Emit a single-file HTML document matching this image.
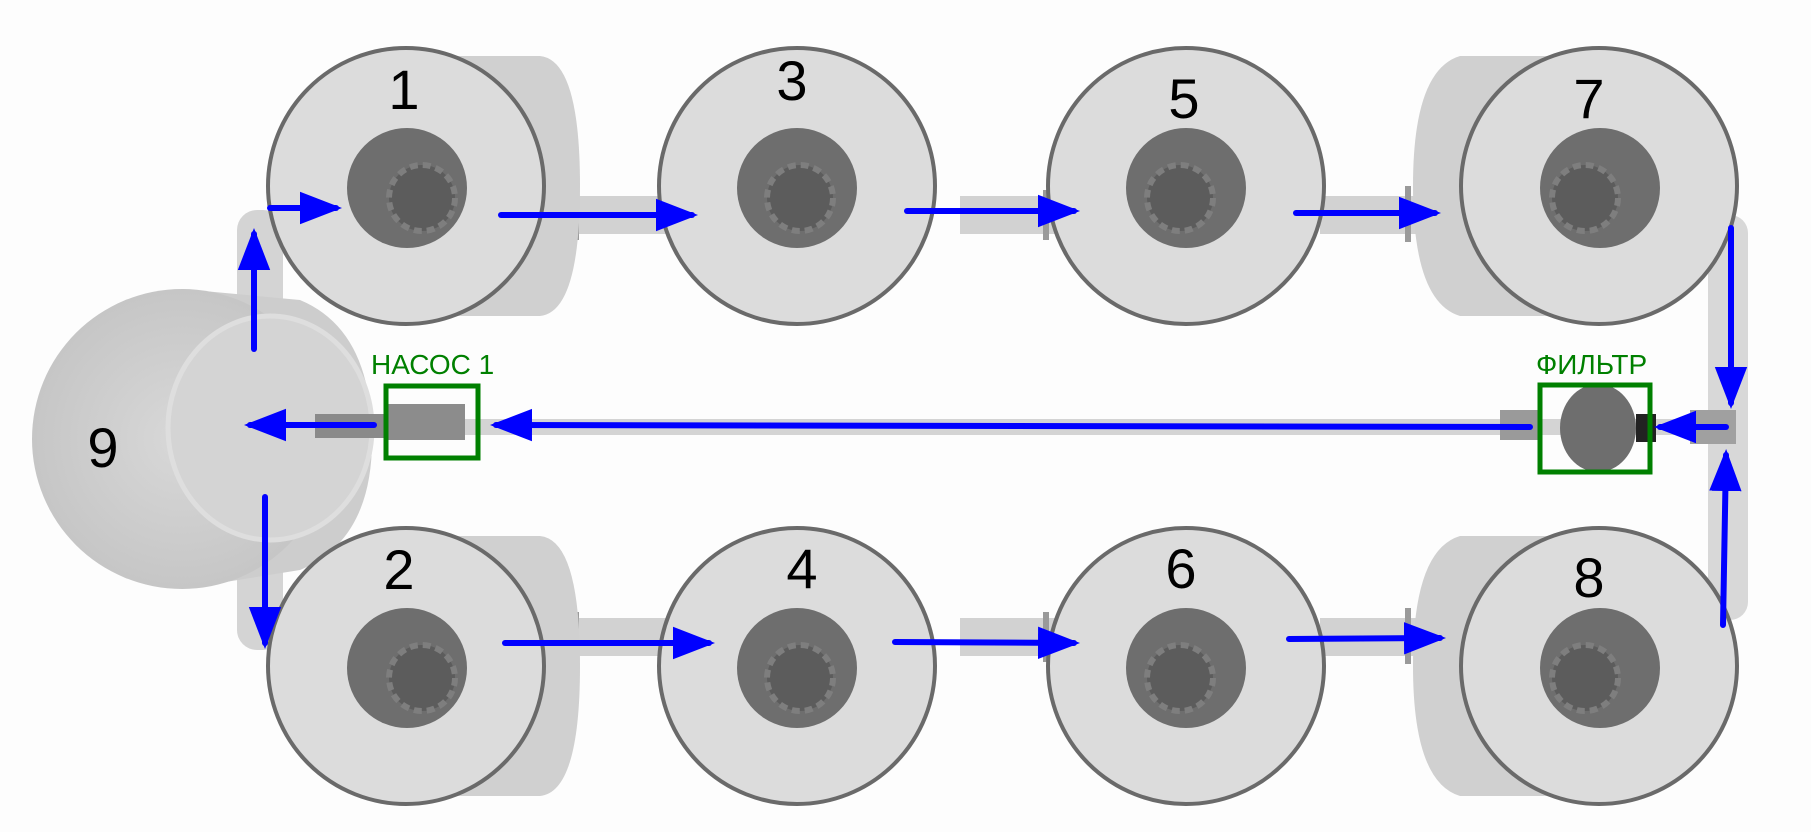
<!DOCTYPE html>
<html><head><meta charset="utf-8"><style>
html,body{margin:0;padding:0;background:#fff;}
svg{display:block;}
text{font-family:"Liberation Sans",sans-serif;}
</style></head><body>
<svg width="1811" height="832" viewBox="0 0 1811 832" xmlns="http://www.w3.org/2000/svg">
<defs>
<marker id="ah" markerWidth="7" markerHeight="6" refX="6" refY="3" orient="auto" markerUnits="strokeWidth">
<path d="M0,0.3 L7,3 L0,5.7 z" fill="#0000ff"/>
</marker>
<radialGradient id="g9" cx="0.5" cy="0.5" r="0.5">
<stop offset="0" stop-color="#d8d8d8"/><stop offset="1" stop-color="#c6c6c6"/>
</radialGradient>
</defs>
<rect width="1811" height="832" fill="#fdfdfd"/>

<rect x="237" y="210" width="46" height="140" rx="20" fill="#d4d4d4"/>
<rect x="237" y="510" width="46" height="140" rx="20" fill="#d4d4d4"/>
<rect x="1708" y="215" width="40" height="405" rx="18" fill="#d8d8d8"/>
<rect x="370" y="419" width="1340" height="16" fill="#d4d4d4"/>
<g fill="#d2d2d2">
<rect x="577" y="196" width="110" height="38"/><rect x="960" y="196" width="110" height="38"/><rect x="1320" y="196" width="100" height="38"/>
<rect x="577" y="618" width="110" height="38"/><rect x="960" y="618" width="110" height="38"/><rect x="1320" y="618" width="100" height="38"/>
</g>
<g fill="#9a9a9a">
<rect x="573" y="190" width="6" height="50"/><rect x="1043" y="190" width="6" height="50"/><rect x="1405" y="186" width="6" height="56"/>
<rect x="573" y="612" width="6" height="50"/><rect x="1043" y="612" width="6" height="50"/><rect x="1405" y="608" width="6" height="56"/>
</g>
<g fill="#d0d0d0">
<path d="M406,56 L540,56 Q580,60 580,186 Q580,312 540,316 L406,316 z"/>
<path d="M406,536 L540,536 Q580,540 580,666 Q580,792 540,796 L406,796 z"/>
<path d="M1599,56 L1460,56 Q1413,70 1413,186 Q1413,302 1460,316 L1599,316 z"/>
<path d="M1599,536 L1460,536 Q1413,550 1413,666 Q1413,782 1460,796 L1599,796 z"/>
</g>

<path d="M182,289 L300,300 Q372,330 372,440 Q372,540 300,570 L182,589 z" fill="#cdcdcd"/>
<circle cx="182" cy="439" r="150" fill="url(#g9)"/>
<ellipse cx="270" cy="428" rx="102" ry="112" fill="#d4d4d4" stroke="#dedede" stroke-width="5"/>
<rect x="315" y="414" width="70" height="24" fill="#8a8a8a"/>

<g stroke="#6a6a6a" stroke-width="4" fill="#dcdcdc">
<circle cx="406" cy="186" r="138"/><circle cx="797" cy="186" r="138"/><circle cx="1186" cy="186" r="138"/><circle cx="1599" cy="186" r="138"/>
<circle cx="406" cy="666" r="138"/><circle cx="797" cy="666" r="138"/><circle cx="1186" cy="666" r="138"/><circle cx="1599" cy="666" r="138"/>
</g>
<g fill="#6e6e6e">
<circle cx="407" cy="188" r="60"/><circle cx="797" cy="188" r="60"/><circle cx="1186" cy="188" r="60"/><circle cx="1600" cy="188" r="60"/>
<circle cx="407" cy="668" r="60"/><circle cx="797" cy="668" r="60"/><circle cx="1186" cy="668" r="60"/><circle cx="1600" cy="668" r="60"/>
</g>
<g fill="#5c5c5c" stroke="#7e7e7e" stroke-width="6" stroke-dasharray="8 5">
<circle cx="422" cy="198" r="33"/><circle cx="800" cy="198" r="33"/><circle cx="1180" cy="198" r="33"/><circle cx="1585" cy="198" r="33"/>
<circle cx="422" cy="678" r="33"/><circle cx="800" cy="678" r="33"/><circle cx="1180" cy="678" r="33"/><circle cx="1585" cy="678" r="33"/>
</g>

<rect x="385" y="404" width="80" height="36" fill="#8c8c8c"/>
<rect x="1500" y="410" width="40" height="30" fill="#9a9a9a"/>
<ellipse cx="1598" cy="428" rx="38" ry="44" fill="#6e6e6e"/>
<rect x="1636" y="414" width="20" height="28" fill="#222"/>
<rect x="1690" y="410" width="46" height="34" fill="#a0a0a0"/>
<g fill="none" stroke="#008000" stroke-width="5">
<rect x="386" y="386" width="92" height="72"/>
<rect x="1540" y="385" width="110" height="87"/>
</g>
<text x="371" y="374" font-size="28" fill="#008000">НАСОС 1</text>
<text x="1536" y="374" font-size="28" fill="#008000">ФИЛЬТР</text>

<g font-size="56" fill="#000" text-anchor="middle">
<text x="404" y="109">1</text><text x="792" y="100">3</text><text x="1184" y="118">5</text><text x="1589" y="118">7</text>
<text x="399" y="589">2</text><text x="802" y="588">4</text><text x="1181" y="588">6</text><text x="1589" y="597">8</text>
<text x="103" y="467">9</text>
</g>

<g stroke="#0000ff" stroke-width="6" fill="none" stroke-linecap="round" marker-end="url(#ah)">
<line x1="254" y1="349" x2="254" y2="234"/>
<line x1="270" y1="208" x2="336" y2="208"/>
<line x1="501" y1="215" x2="692" y2="215"/>
<line x1="907" y1="211" x2="1074" y2="211"/>
<line x1="1296" y1="213" x2="1435" y2="213"/>
<line x1="1731" y1="228" x2="1731" y2="403"/>
<line x1="1726" y1="427" x2="1660" y2="427"/>
<line x1="1530" y1="427" x2="496" y2="425"/>
<line x1="374" y1="425" x2="250" y2="425"/>
<line x1="265" y1="497" x2="265" y2="643"/>
<line x1="505" y1="643" x2="709" y2="643"/>
<line x1="895" y1="642" x2="1074" y2="643"/>
<line x1="1289" y1="639" x2="1440" y2="638"/>
<line x1="1723" y1="625" x2="1726" y2="455"/>
</g>
</svg>
</body></html>
